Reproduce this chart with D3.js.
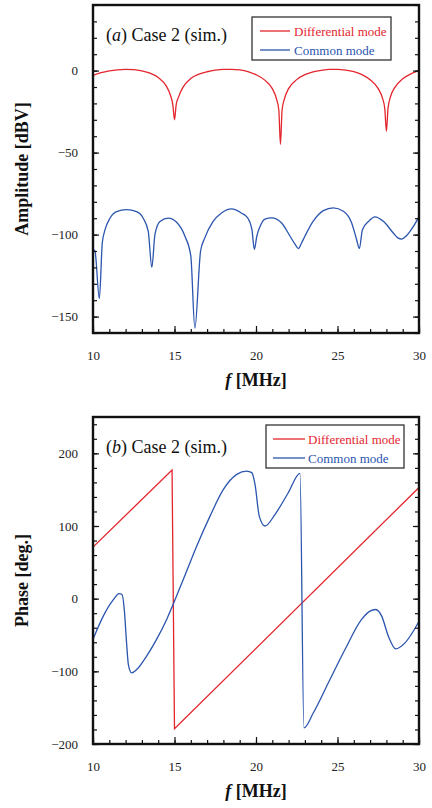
<!DOCTYPE html>
<html><head><meta charset="utf-8">
<script src="https://cdn.jsdelivr.net/npm/d3@7"></script>
<style>
body{margin:0;background:#fff}
svg{display:block}
text{font-family:"Liberation Serif","Times New Roman",serif}
</style>
</head><body>
<svg id="c" width="432" height="808"></svg>
<script>
// ---------- data ----------
const freqTicks = [10, 15, 20, 25, 30];
const ampTicks = [-150, -100, -50, 0];
const phaseTicks = [-200, -100, 0, 100, 200];
const seriesNames = ["Differential mode", "Common mode"];

// Amplitude, differential mode
const ampDMFreq = [10.0,10.5,11.0,11.5,12.0,12.5,13.0,13.5,14.0,14.5,14.75,14.9,15.0,15.1,15.25,15.5,16.0,16.5,17.0,17.5,18.0,18.5,19.0,19.5,20.0,20.5,21.0,21.25,21.4,21.5,21.6,21.75,22.0,22.5,23.0,23.5,24.0,24.5,25.0,25.5,26.0,26.5,27.0,27.5,27.75,27.9,28.0,28.1,28.25,28.5,29.0,29.5,30.0];
const ampDM     = [-3,-1.3,-0.2,0.5,0.8,0.6,-0.2,-1.6,-4.2,-9.5,-15,-21,-30,-21,-16,-10.5,-4.8,-2.2,-0.7,0.3,0.8,0.8,0.4,-0.6,-2.5,-5.5,-11,-17,-24,-45,-24,-17,-11,-5.5,-2.5,-0.8,0.2,0.8,0.8,0.3,-0.7,-2.5,-5.6,-11,-16.5,-23,-37,-23,-16,-10.5,-5,-2,0];

// Amplitude, common mode
const ampCMFreq = [10.0,10.12,10.39,10.57,10.74,11.04,11.45,12.06,12.67,13.08,13.39,13.61,13.8,14.11,14.62,15.13,15.64,16.0,16.25,16.6,16.86,17.37,17.88,18.5,19.1,19.5,19.75,19.9,20.05,20.25,20.55,20.96,21.57,22.09,22.4,22.6,22.8,23.0,23.5,24.13,24.74,25.36,25.87,26.17,26.34,26.53,26.9,27.3,27.81,28.42,28.7,28.94,29.2,29.45,29.96,30.0];
const ampCM     = [-109,-110,-139,-105,-97,-90,-86,-84.8,-86,-90,-98,-120,-100,-92,-90,-92.5,-101,-113,-157,-110,-102,-92,-86.8,-84.3,-86.8,-90,-97,-109,-101,-95,-90.5,-89.8,-92.9,-101,-106,-108.5,-105,-101,-92,-85.4,-83.7,-85.8,-92.9,-103,-108.5,-97,-92,-89.2,-91.9,-99,-102,-102.7,-101,-98,-89.8,-89];

// Phase, differential mode
const phDMFreq = [10.0, 14.85, 15.0, 30.0];
const phDM     = [71, 177, -179, 153];

// Phase, common mode
const phCMFreq = [10.0,10.63,11.25,11.6,11.78,11.92,12.06,12.17,12.37,12.68,13.29,13.9,14.52,14.97,15.54,16.36,17.18,18.0,18.82,19.43,19.74,19.94,20.2,20.55,21.17,21.98,22.7,22.94,23.52,24.44,25.46,26.48,26.99,27.34,27.71,28.12,28.57,29.14,29.65,30.0];
const phCM     = [-56,-24,-1.4,7,5.8,-15,-61,-90.6,-102,-97.5,-79,-56,-28.6,-4.9,26.4,72.3,113.6,150.4,171,175.6,173.4,157.3,113.6,100,116,145.8,172.5,-177.8,-157,-115.8,-70,-28.6,-17.2,-14.9,-24,-51.7,-69,-60.8,-44.8,-31];

// ---------- drawing ----------
const RED = "#e3262e", BLUE = "#2b55ae";
const svg = d3.select("#c");
svg.append("rect").attr("width", 432).attr("height", 808).attr("fill", "#fff");

function zip(a, b) { return a.map((v, i) => [v, b[i]]); }

function panel(o) {
  const x = d3.scaleLinear().domain([10, 30]).range([93, 419]);
  const y = d3.scaleLinear().domain(o.yDomain).range([o.bottom, o.top]);
  const g = svg.append("g");
  const cid = "clip" + o.id;
  g.append("clipPath").attr("id", cid).append("rect")
    .attr("x", 93).attr("y", o.top).attr("width", 326).attr("height", o.bottom - o.top);

  const lg = g.append("g").attr("clip-path", `url(#${cid})`);
  o.series.forEach(s => {
    const line = d3.line().x(d => x(d[0])).y(d => y(d[1]))
      .curve(s.linear ? d3.curveLinear : d3.curveMonotoneX);
    lg.append("path").datum(s.data).attr("d", line)
      .attr("fill", "none").attr("stroke", s.color).attr("stroke-width", 1.3);
  });

  const minorX = d3.range(10, 30.01, 1);
  const minorY = d3.range(o.yDomain[0], o.yDomain[1] + 0.01, o.minorStep);

  function styleAxis(sel) {
    sel.select(".domain").remove();
    sel.selectAll("line").attr("stroke", "#111").attr("stroke-width", 1.2);
    sel.selectAll("text").attr("font-size", 13).attr("fill", "#222")
      .style("font-family", '"Liberation Serif","Times New Roman",serif');
  }
  // bottom
  g.append("g").attr("transform", `translate(0,${o.bottom})`)
    .call(d3.axisBottom(x).tickValues(minorX).tickFormat("").tickSize(-4)).call(styleAxis);
  g.append("g").attr("transform", `translate(0,${o.bottom})`)
    .call(d3.axisBottom(x).tickValues(freqTicks).tickFormat(d3.format("d")).tickSize(-7).tickPadding(18)).call(styleAxis);
  // left
  g.append("g").attr("transform", `translate(93,0)`)
    .call(d3.axisLeft(y).tickValues(minorY).tickFormat("").tickSize(-4)).call(styleAxis);
  g.append("g").attr("transform", `translate(93,0)`)
    .call(d3.axisLeft(y).tickValues(o.yTicks).tickFormat(d3.format("d")).tickSize(-6).tickPadding(15)).call(styleAxis);
  // right
  g.append("g").attr("transform", `translate(419,0)`)
    .call(d3.axisRight(y).tickValues(minorY).tickFormat("").tickSize(-4)).call(styleAxis);
  g.append("g").attr("transform", `translate(419,0)`)
    .call(d3.axisRight(y).tickValues(o.yTicks).tickFormat("").tickSize(-6)).call(styleAxis);

  // frame
  g.append("rect").attr("x", 93).attr("y", o.top).attr("width", 326).attr("height", o.bottom - o.top)
    .attr("fill", "none").attr("stroke", "#111").attr("stroke-width", 2.4);

  // panel title
  const t = g.append("text").attr("x", 106).attr("y", o.titleY).attr("font-size", 18).attr("fill", "#111");
  t.append("tspan").text("(");
  t.append("tspan").attr("font-style", "italic").text(o.letter);
  t.append("tspan").text(") Case 2 (sim.)");

  // legend
  const L = o.legend;
  g.append("rect").attr("x", L.x).attr("y", L.y).attr("width", L.w).attr("height", L.h)
    .attr("fill", "#fff").attr("stroke", "#333").attr("stroke-width", 1.3);
  o.series.forEach((s, i) => {
    const yy = L.y + 14 + i * 19;
    g.append("line").attr("x1", L.lx1).attr("x2", L.lx2).attr("y1", yy).attr("y2", yy)
      .attr("stroke", s.color).attr("stroke-width", 1.3);
    g.append("text").attr("x", L.tx).attr("y", yy + 4.5).attr("font-size", 13)
      .attr("fill", s.color).text(s.name);
  });

  // axis titles
  g.append("text").attr("transform", `translate(28,${(o.top + o.bottom) / 2}) rotate(-90)`)
    .attr("text-anchor", "middle").attr("font-size", 18).attr("font-weight", "bold").attr("fill", "#111")
    .text(o.yLabel);
  const xl = g.append("text").attr("x", 256).attr("y", o.bottom + 53).attr("text-anchor", "middle")
    .attr("font-size", 18).attr("font-weight", "bold").attr("fill", "#111");
  xl.append("tspan").attr("font-style", "italic").text("f");
  xl.append("tspan").text(" [MHz]");
}

panel({
  id: "a", top: 5, bottom: 333, yDomain: [-160, 40], yTicks: ampTicks, minorStep: 10,
  letter: "a", titleY: 41, yLabel: "Amplitude [dBV]",
  legend: { x: 252, y: 17, w: 139, h: 43, lx1: 260, lx2: 290, tx: 294 },
  series: [
    { name: seriesNames[0], color: RED, data: zip(ampDMFreq, ampDM) },
    { name: seriesNames[1], color: BLUE, data: zip(ampCMFreq, ampCM) }
  ]
});
panel({
  id: "b", top: 417, bottom: 744, yDomain: [-200, 250], yTicks: phaseTicks, minorStep: 20,
  letter: "b", titleY: 453, yLabel: "Phase [deg.]",
  legend: { x: 266, y: 425, w: 138, h: 43, lx1: 273, lx2: 305, tx: 308 },
  series: [
    { name: seriesNames[0], color: RED, data: zip(phDMFreq, phDM), linear: true },
    { name: seriesNames[1], color: BLUE, data: zip(phCMFreq, phCM) }
  ]
});
</script>
</body></html>
